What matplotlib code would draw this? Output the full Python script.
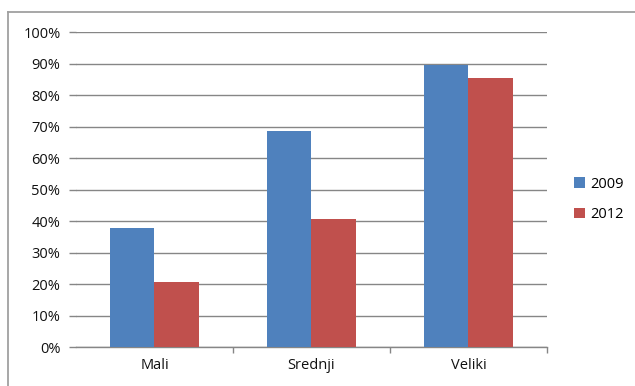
import matplotlib.pyplot as plt
from matplotlib.lines import Line2D
from numpy import arange

# udio po veličini poduzeća
kategorije = ['Mali', 'Srednji', 'Veliki']
godine = ['2009', '2012']
udio_2009 = [37.9, 68.7, 89.6]
udio_2012 = [20.7, 40.7, 85.5]
y_ticks = list(range(0, 101, 10))

boje = ['#4F81BD', '#C0504D']
siva = '#868686'

plt.rcParams['font.family'] = ['Open Sans', 'DejaVu Sans']

fig = plt.figure(figsize=(6.35, 3.86), dpi=100)
W, H = 635, 386
ax = fig.add_axes([76 / W, (H - 347.3) / H, (547 - 76) / W, (347.3 - 32.3) / H])

x = arange(len(kategorije))
sirina = 0.283
ax.bar(x - sirina / 2, udio_2009, sirina, color=boje[0], label=godine[0], zorder=3)
ax.bar(x + sirina / 2, udio_2012, sirina, color=boje[1], label=godine[1], zorder=3)

ax.set_xlim(-0.5, len(kategorije) - 0.5)
ax.set_ylim(0, 100)
ax.set_yticks(y_ticks)
ax.set_yticklabels([f'{t}%' for t in y_ticks], fontsize=10.5, color='#111111')
ax.set_xticks(x)
ax.set_xticklabels(kategorije, fontsize=10.5, color='#111111')
ax.set_xticks(list(x[:-1] + 0.5) + [len(kategorije) - 0.5], minor=True)

ax.yaxis.grid(True, color=siva, linewidth=1, zorder=0)
ax.tick_params(axis='y', length=5.2, width=1, color=siva, pad=6)
ax.tick_params(axis='x', which='major', length=0, pad=8)
ax.tick_params(axis='x', which='minor', length=4, width=1, color=siva)

for s in ['top', 'right', 'left']:
    ax.spines[s].set_visible(False)
ax.spines['bottom'].set_color(siva)
ax.spines['bottom'].set_linewidth(1)

# okvir grafikona (gore i lijevo)
fig.add_artist(Line2D([8 / W, 1], [1 - 11.5 / H] * 2, color='#A0A0A0', linewidth=1.3))
fig.add_artist(Line2D([8 / W] * 2, [0, 1 - 11.5 / H], color='#A0A0A0', linewidth=1.3))

fig.legend(loc='upper left', bbox_to_anchor=(568 / W, 1 - 171 / H), frameon=False,
           fontsize=10.5, handlelength=0.75, handleheight=0.75, handletextpad=0.4,
           labelspacing=1.05, borderaxespad=0)

fig.savefig('out.png', dpi=100)
